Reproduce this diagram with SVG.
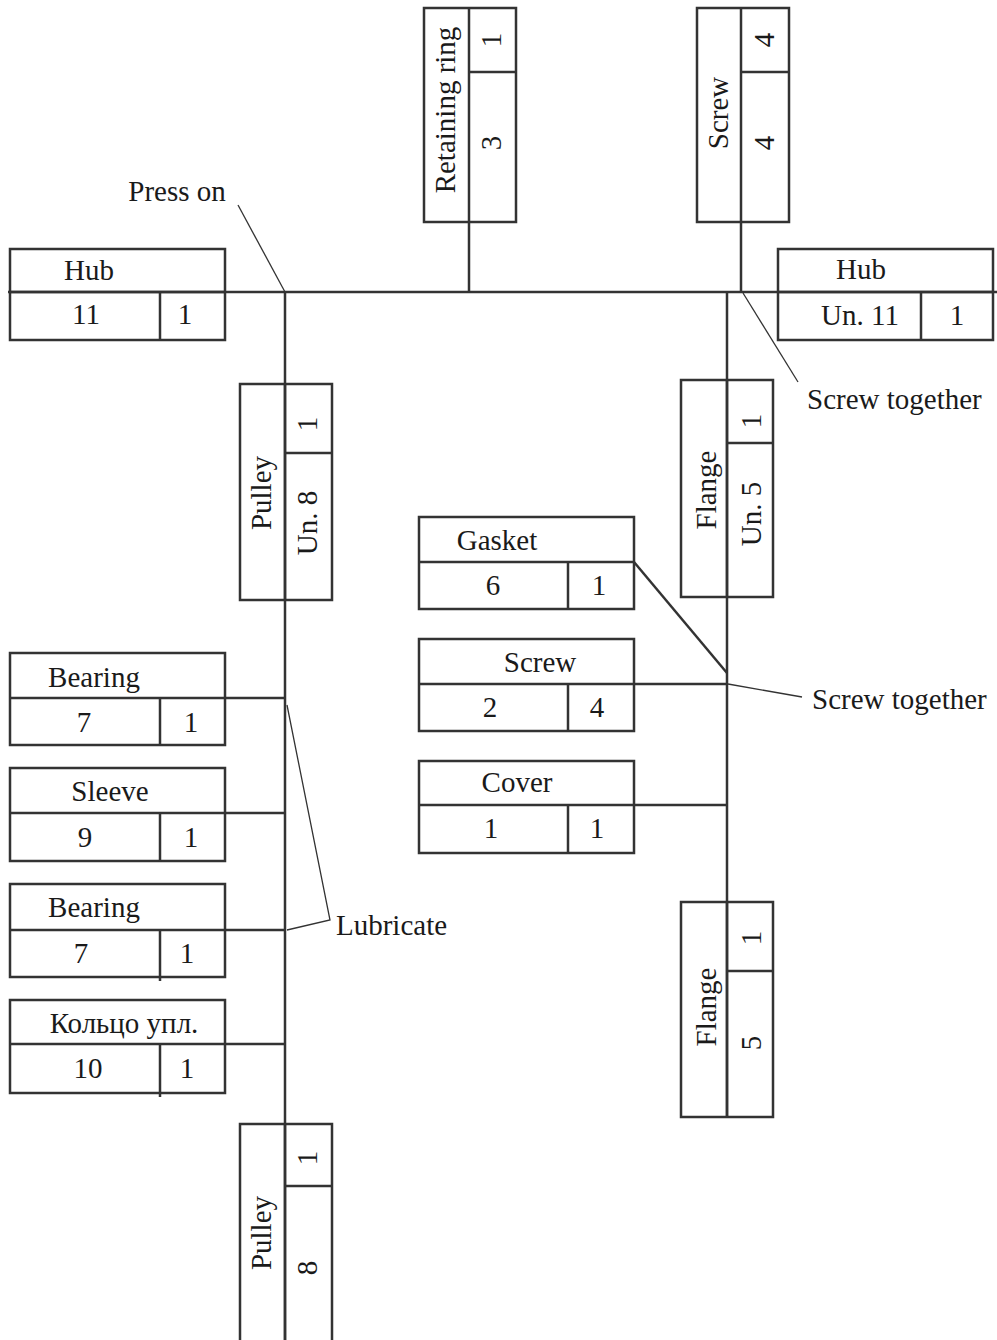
<svg xmlns="http://www.w3.org/2000/svg" width="997" height="1340" viewBox="0 0 997 1340">
<style>
.box{fill:none;stroke:#333;stroke-width:2.5}
.ln{fill:none;stroke:#333;stroke-width:2.5}
.ld{fill:none;stroke:#333;stroke-width:1.3}
text{font-family:"Liberation Serif","Times New Roman",serif;font-size:29px;fill:#1a1a1a}
.c{text-anchor:middle}
</style>
<rect width="997" height="1340" fill="#fff"/>
<g id="connectors">
<line class="ln" x1="8" y1="292" x2="997" y2="292"/>
<line class="ln" x1="285" y1="292" x2="285" y2="1340"/>
<line class="ln" x1="727" y1="292" x2="727" y2="1117"/>
<line class="ln" x1="469" y1="222" x2="469" y2="292"/>
<line class="ln" x1="741" y1="222" x2="741" y2="292"/>
<line class="ln" x1="225" y1="698" x2="285" y2="698"/>
<line class="ln" x1="225" y1="813" x2="285" y2="813"/>
<line class="ln" x1="225" y1="930" x2="285" y2="930"/>
<line class="ln" x1="225" y1="1044" x2="285" y2="1044"/>
<line class="ln" x1="634" y1="562" x2="727" y2="673"/>
<line class="ln" x1="634" y1="684" x2="727" y2="684"/>
<line class="ln" x1="634" y1="805" x2="727" y2="805"/>
<line class="ld" x1="238" y1="205" x2="285" y2="292"/>
<line class="ld" x1="743" y1="293" x2="798" y2="382"/>
<line class="ld" x1="728" y1="684" x2="802" y2="697"/>
<polyline class="ld" points="287,705 330,920 287,930"/>
</g>
<g id="labels">
<text class="c" x="177" y="201">Press on</text>
<text x="807" y="409">Screw together</text>
<text x="812" y="709">Screw together</text>
<text x="336" y="935">Lubricate</text>
</g>
<g id="hub-left">
<rect class="box" x="10" y="249" width="215" height="91"/>
<line class="ln" x1="10" y1="292" x2="225" y2="292"/>
<line class="ln" x1="160" y1="292" x2="160" y2="340"/>
<text class="c" x="89" y="280">Hub</text>
<text class="c" x="86" y="324">11</text>
<text class="c" x="185" y="324">1</text>
</g>
<g id="retaining-ring">
<rect class="box" x="424" y="8" width="92" height="214"/>
<line class="ln" x1="469" y1="8" x2="469" y2="222"/>
<line class="ln" x1="469" y1="72" x2="516" y2="72"/>
<text class="c" transform="translate(455,110) rotate(-90)">Retaining ring</text>
<text class="c" transform="translate(501,40) rotate(-90)">1</text>
<text class="c" transform="translate(501,143) rotate(-90)">3</text>
</g>
<g id="screw-top">
<rect class="box" x="697" y="8" width="92" height="214"/>
<line class="ln" x1="741" y1="8" x2="741" y2="222"/>
<line class="ln" x1="741" y1="72" x2="789" y2="72"/>
<text class="c" transform="translate(728,113) rotate(-90)">Screw</text>
<text class="c" transform="translate(774,40) rotate(-90)">4</text>
<text class="c" transform="translate(774,143) rotate(-90)">4</text>
</g>
<g id="hub-right">
<rect class="box" x="778" y="249" width="215" height="91"/>
<line class="ln" x1="778" y1="292" x2="993" y2="292"/>
<line class="ln" x1="921" y1="292" x2="921" y2="340"/>
<text class="c" x="861" y="279">Hub</text>
<text class="c" x="860" y="325">Un. 11</text>
<text class="c" x="957" y="325">1</text>
</g>
<g id="pulley-un8">
<rect class="box" x="240" y="384" width="92" height="216"/>
<line class="ln" x1="285" y1="384" x2="285" y2="600"/>
<line class="ln" x1="285" y1="453" x2="332" y2="453"/>
<text class="c" transform="translate(271,493) rotate(-90)">Pulley</text>
<text class="c" transform="translate(317,424) rotate(-90)">1</text>
<text class="c" transform="translate(317,523) rotate(-90)">Un. 8</text>
</g>
<g id="flange-un5">
<rect class="box" x="681" y="380" width="92" height="217"/>
<line class="ln" x1="727" y1="380" x2="727" y2="597"/>
<line class="ln" x1="727" y1="443" x2="773" y2="443"/>
<text class="c" transform="translate(716,490) rotate(-90)">Flange</text>
<text class="c" transform="translate(761,421) rotate(-90)">1</text>
<text class="c" transform="translate(761,514) rotate(-90)">Un. 5</text>
</g>
<g id="gasket">
<rect class="box" x="419" y="517" width="215" height="92"/>
<line class="ln" x1="419" y1="562" x2="634" y2="562"/>
<line class="ln" x1="568" y1="562" x2="568" y2="609"/>
<text class="c" x="497" y="550">Gasket</text>
<text class="c" x="493" y="595">6</text>
<text class="c" x="599" y="595">1</text>
</g>
<g id="screw-mid">
<rect class="box" x="419" y="639" width="215" height="92"/>
<line class="ln" x1="419" y1="684" x2="634" y2="684"/>
<line class="ln" x1="568" y1="684" x2="568" y2="731"/>
<text class="c" x="540" y="672">Screw</text>
<text class="c" x="490" y="717">2</text>
<text class="c" x="597" y="717">4</text>
</g>
<g id="cover">
<rect class="box" x="419" y="761" width="215" height="92"/>
<line class="ln" x1="419" y1="805" x2="634" y2="805"/>
<line class="ln" x1="568" y1="805" x2="568" y2="853"/>
<text class="c" x="517" y="792">Cover</text>
<text class="c" x="491" y="838">1</text>
<text class="c" x="597" y="838">1</text>
</g>
<g id="flange-5">
<rect class="box" x="681" y="902" width="92" height="215"/>
<line class="ln" x1="727" y1="902" x2="727" y2="1117"/>
<line class="ln" x1="727" y1="971" x2="773" y2="971"/>
<text class="c" transform="translate(716,1007) rotate(-90)">Flange</text>
<text class="c" transform="translate(761,938) rotate(-90)">1</text>
<text class="c" transform="translate(761,1043) rotate(-90)">5</text>
</g>
<g id="bearing-1">
<rect class="box" x="10" y="653" width="215" height="92"/>
<line class="ln" x1="10" y1="698" x2="225" y2="698"/>
<line class="ln" x1="160" y1="698" x2="160" y2="745"/>
<text class="c" x="94" y="687">Bearing</text>
<text class="c" x="84" y="732">7</text>
<text class="c" x="191" y="732">1</text>
</g>
<g id="sleeve">
<rect class="box" x="10" y="768" width="215" height="93"/>
<line class="ln" x1="10" y1="813" x2="225" y2="813"/>
<line class="ln" x1="160" y1="813" x2="160" y2="862"/>
<text class="c" x="110" y="801">Sleeve</text>
<text class="c" x="85" y="847">9</text>
<text class="c" x="191" y="847">1</text>
</g>
<g id="bearing-2">
<rect class="box" x="10" y="884" width="215" height="93"/>
<line class="ln" x1="10" y1="930" x2="225" y2="930"/>
<line class="ln" x1="160" y1="930" x2="160" y2="981"/>
<text class="c" x="94" y="917">Bearing</text>
<text class="c" x="81" y="963">7</text>
<text class="c" x="187" y="963">1</text>
</g>
<g id="seal-ring">
<rect class="box" x="10" y="1000" width="215" height="93"/>
<line class="ln" x1="10" y1="1044" x2="225" y2="1044"/>
<line class="ln" x1="160" y1="1044" x2="160" y2="1097"/>
<text class="c" x="124" y="1033">Кольцо упл.</text>
<text class="c" x="88" y="1078">10</text>
<text class="c" x="187" y="1078">1</text>
</g>
<g id="pulley-8">
<rect class="box" x="240" y="1124" width="92" height="222"/>
<line class="ln" x1="285" y1="1124" x2="285" y2="1340"/>
<line class="ln" x1="285" y1="1186" x2="332" y2="1186"/>
<text class="c" transform="translate(271,1233) rotate(-90)">Pulley</text>
<text class="c" transform="translate(317,1158) rotate(-90)">1</text>
<text class="c" transform="translate(317,1268) rotate(-90)">8</text>
</g>
</svg>
